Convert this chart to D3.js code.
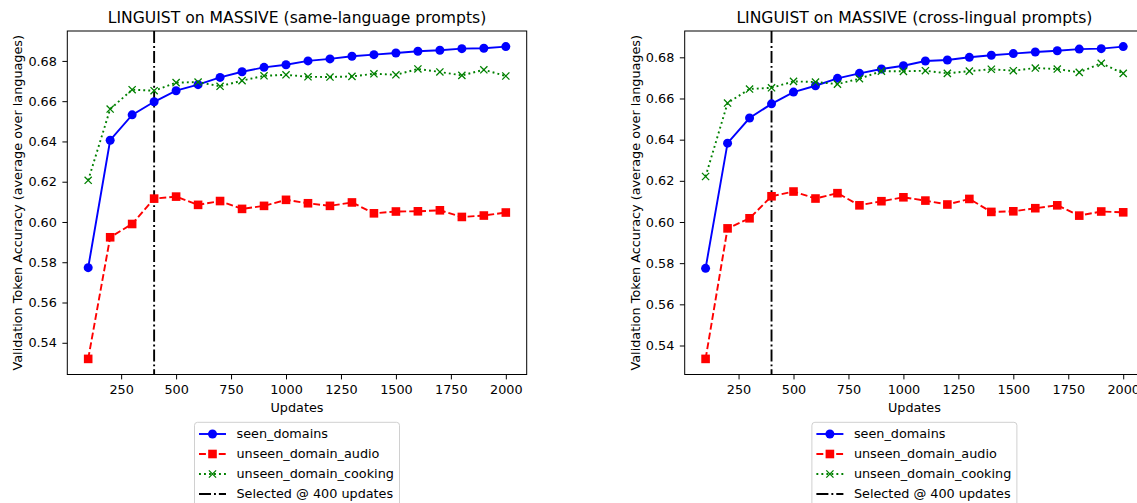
<html lang="en">
  <head>
    <meta charset="UTF-8" />
    <title>LINGUIST on MASSIVE</title>
    <script src="https://d3js.org/d3.v7.min.js"></script>
  </head>
  <style>
    body {
      margin: 0px;
      overflow: hidden;
      background: #ffffff;
    }
    text {
      font-family: "DejaVu Sans", sans-serif;
      fill: #000000;
    }
  </style>
  <body>
    <svg width="1137" height="503"></svg>
  </body>
  <footer>
    <script>
      var updates = [100, 200, 300, 400, 500, 600, 700, 800, 900, 1000,
        1100, 1200, 1300, 1400, 1500, 1600, 1700, 1800, 1900, 2000];

      // same-language prompts
      var sameSeen = [0.5773, 0.6406, 0.6532, 0.6597, 0.6652, 0.6682, 0.6718, 0.6746, 0.6768, 0.6781,
        0.6800, 0.6810, 0.6823, 0.6831, 0.6839, 0.6848, 0.6853, 0.6861, 0.6863, 0.6871];
      var sameAudio = [0.5320, 0.5924, 0.5990, 0.6116, 0.6126, 0.6085, 0.6104, 0.6065, 0.6080, 0.6110,
        0.6093, 0.6080, 0.6097, 0.6043, 0.6052, 0.6053, 0.6058, 0.6025, 0.6032, 0.6047];
      var sameCooking = [0.6207, 0.6561, 0.6657, 0.6652, 0.6692, 0.6695, 0.6674, 0.6702, 0.6726, 0.6731,
        0.6721, 0.6720, 0.6723, 0.6736, 0.6731, 0.6760, 0.6745, 0.6728, 0.6756, 0.6725];

      // cross-lingual prompts
      var crossSeen = [0.5775, 0.6383, 0.6505, 0.6574, 0.6631, 0.6662, 0.6698, 0.6722, 0.6743, 0.6759,
        0.6782, 0.6787, 0.6800, 0.6810, 0.6818, 0.6826, 0.6832, 0.6840, 0.6842, 0.6852];
      var crossAudio = [0.5335, 0.5969, 0.6018, 0.6125, 0.6148, 0.6114, 0.6140, 0.6081, 0.6101, 0.6120,
        0.6104, 0.6085, 0.6112, 0.6049, 0.6052, 0.6067, 0.6081, 0.6031, 0.6051, 0.6047];
      var crossCooking = [0.6221, 0.6578, 0.6646, 0.6652, 0.6683, 0.6680, 0.6670, 0.6696, 0.6733, 0.6732,
        0.6735, 0.6722, 0.6733, 0.6742, 0.6735, 0.6748, 0.6743, 0.6727, 0.6771, 0.6722];

      var selectedUpdate = 400;
      var xTicks = [250, 500, 750, 1000, 1250, 1500, 1750, 2000];
      var yTicks = [0.54, 0.56, 0.58, 0.60, 0.62, 0.64, 0.66, 0.68];
      var seriesNames = ["seen_domains", "unseen_domain_audio", "unseen_domain_cooking"];
      var selectedLabel = "Selected @ 400 updates";
      var titles = ["LINGUIST on MASSIVE (same-language prompts)", "LINGUIST on MASSIVE (cross-lingual prompts)"];

      var svg = d3.select("svg");

      // matplotlib-ish styles for each series
      var styles = [
        { color: "#0000ff", dash: null, marker: "circle" },
        { color: "#ff0000", dash: "6.9,3", marker: "square" },
        { color: "#008000", dash: "1.9,3.1", marker: "x" }
      ];

      var axW = 459.4;
      var axTop = 31;
      var axBottom = 374.5;
      var fs = 12.8;

      function drawMarker(sel, type, color) {
        if (type === "circle") {
          sel.append("circle").attr("r", 4.5).attr("fill", color);
        } else if (type === "square") {
          sel.append("rect")
            .attr("x", -4.3).attr("y", -4.3)
            .attr("width", 8.6).attr("height", 8.6)
            .attr("fill", color);
        } else {
          sel.append("path")
            .attr("d", "M-3.6,-3.6L3.6,3.6M-3.6,3.6L3.6,-3.6")
            .attr("stroke", color)
            .attr("stroke-width", 1.3)
            .attr("fill", "none");
        }
      }

      function drawPanel(left, title, seriesList) {
        var allVals = d3.merge(seriesList);
        var ext = d3.extent(allVals);
        var pad = (ext[1] - ext[0]) * 0.05;

        var xScale = d3.scaleLinear()
          .domain([5, 2095])
          .range([left, left + axW]);
        var yScale = d3.scaleLinear()
          .domain([ext[0] - pad, ext[1] + pad])
          .range([axBottom, axTop]);

        var g = svg.append("g");

        // axes
        var xAxis = g.append("g")
          .attr("transform", `translate(0, ${axBottom})`)
          .call(d3.axisBottom(xScale).tickValues(xTicks).tickFormat(d3.format("d"))
            .tickSize(4.9).tickPadding(5.5).tickSizeOuter(0));
        var yAxis = g.append("g")
          .attr("transform", `translate(${left}, 0)`)
          .call(d3.axisLeft(yScale).tickValues(yTicks).tickFormat(d3.format(".2f"))
            .tickSize(4.9).tickPadding(5.5).tickSizeOuter(0));
        [xAxis, yAxis].forEach(function (a) {
          a.select(".domain").remove();
          a.selectAll("line").attr("stroke", "#000").attr("stroke-width", 1);
          a.selectAll("text")
            .attr("font-family", "DejaVu Sans")
            .attr("font-size", fs)
            .attr("fill", "#000");
        });

        // frame
        g.append("rect")
          .attr("x", left).attr("y", axTop)
          .attr("width", axW).attr("height", axBottom - axTop)
          .attr("fill", "none")
          .attr("stroke", "#000")
          .attr("stroke-width", 1);

        // selected vertical line
        g.append("line")
          .attr("x1", xScale(selectedUpdate)).attr("x2", xScale(selectedUpdate))
          .attr("y1", axTop).attr("y2", axBottom)
          .attr("stroke", "#000")
          .attr("stroke-width", 1.9)
          .attr("stroke-dasharray", "12,3,1.9,3");

        var line = d3.line()
          .x(function (d, i) { return xScale(updates[i]); })
          .y(function (d) { return yScale(d); });

        seriesList.forEach(function (vals, k) {
          var st = styles[k];
          g.append("path")
            .datum(vals)
            .attr("d", line)
            .attr("fill", "none")
            .attr("stroke", st.color)
            .attr("stroke-width", 1.9)
            .attr("stroke-dasharray", st.dash);
          g.selectAll(".m" + k)
            .data(vals)
            .enter()
            .append("g")
            .attr("class", "m" + k)
            .attr("transform", function (d, i) {
              return `translate(${xScale(updates[i])}, ${yScale(d)})`;
            })
            .each(function () { drawMarker(d3.select(this), st.marker, st.color); });
        });

        var cx = left + axW / 2;

        g.append("text")
          .attr("x", cx).attr("y", 22.5)
          .attr("text-anchor", "middle")
          .attr("font-size", 15.6)
          .text(title);

        g.append("text")
          .attr("x", cx).attr("y", 411.5)
          .attr("text-anchor", "middle")
          .attr("font-size", fs)
          .text("Updates");

        g.append("text")
          .attr("transform", `translate(${left - 45}, ${(axTop + axBottom) / 2}) rotate(-90)`)
          .attr("text-anchor", "middle")
          .attr("font-size", fs)
          .text("Validation Token Accuracy (average over languages)");

        // legend
        var lx = cx - 102.5;
        var leg = g.append("g").attr("transform", `translate(${lx}, 422.3)`);
        leg.append("rect")
          .attr("width", 205).attr("height", 90)
          .attr("rx", 3)
          .attr("fill", "#fff")
          .attr("fill-opacity", 0.8)
          .attr("stroke", "#d0d0d0")
          .attr("stroke-width", 1);

        var legItems = seriesNames.concat([selectedLabel]);
        legItems.forEach(function (name, k) {
          var row = leg.append("g").attr("transform", `translate(0, ${11.7 + k * 20})`);
          var st = k < 3 ? styles[k] : { color: "#000", dash: "12,3,1.9,3", marker: null };
          row.append("line")
            .attr("x1", 4.5).attr("x2", 31.5)
            .attr("stroke", st.color)
            .attr("stroke-width", 1.9)
            .attr("stroke-dasharray", st.dash);
          if (st.marker) {
            var mk = row.append("g").attr("transform", "translate(18, 0)");
            drawMarker(mk, st.marker, st.color);
          }
          row.append("text")
            .attr("x", 42)
            .attr("dy", "0.35em")
            .attr("font-size", fs)
            .text(name);
        });
      }

      drawPanel(67.3, titles[0], [sameSeen, sameAudio, sameCooking]);
      drawPanel(684.7, titles[1], [crossSeen, crossAudio, crossCooking]);
    </script>
  </footer>
</html>
